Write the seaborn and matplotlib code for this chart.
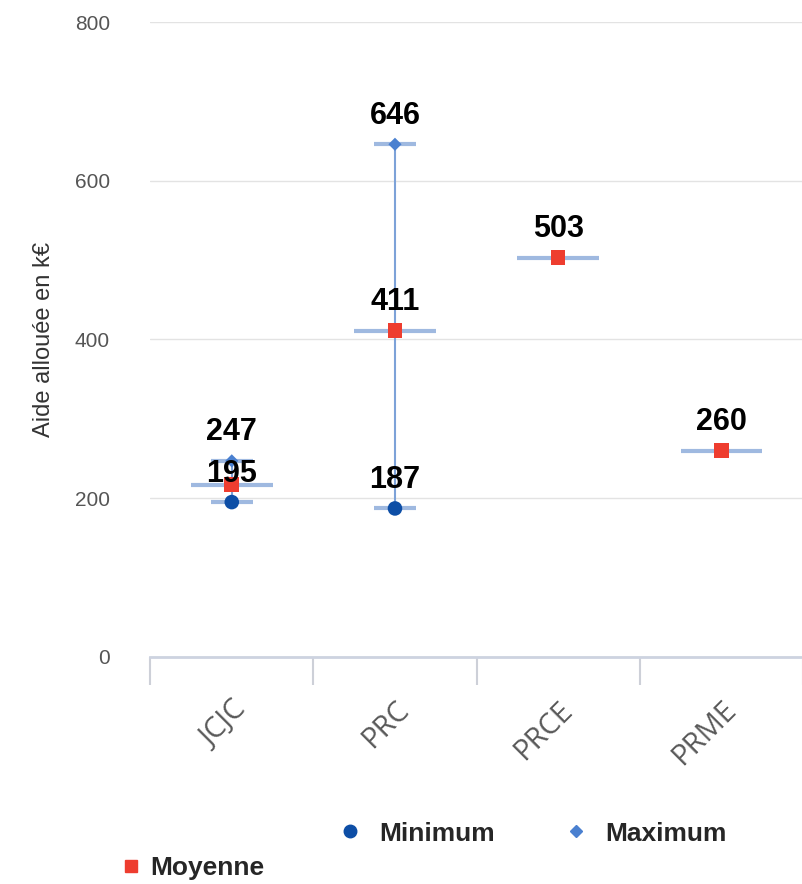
import matplotlib
matplotlib.use("Agg")
import matplotlib.pyplot as plt
from matplotlib.lines import Line2D
import numpy as np
import pandas as pd
import seaborn as sns

categories = ["JCJC", "PRC", "PRCE", "PRME"]
minimum = [195, 187, np.nan, np.nan]
maximum = [247, 646, np.nan, np.nan]
moyenne = [217, 411, 503, 260]
label_mean = [False, True, True, True]

sns.set_theme(style="white")
plt.rcParams["font.family"] = ["Liberation Sans", "DejaVu Sans"]

fig = plt.figure(figsize=(8.03, 8.84), dpi=100)
ax = fig.add_axes([0.187, 0.257, 0.813, 0.718])

df = pd.DataFrame({"cat": categories, "min": minimum, "max": maximum, "mean": moyenne})
x = np.arange(len(categories))

bar_c = "#9fb9e0"
for i, (lo, hi) in enumerate(zip(minimum, maximum)):
    if not np.isnan(lo):
        ax.plot([i, i], [lo, hi], color="#7da2d8", lw=1.5, zorder=2)
        ax.hlines([lo, hi], i - 0.13, i + 0.13, color=bar_c, lw=3, zorder=2)
ax.hlines(moyenne, x - 0.25, x + 0.25, color=bar_c, lw=3, zorder=2)

sns.scatterplot(data=df, x="cat", y="min", marker="o", s=110, color="#0d4ea6",
                edgecolor="none", ax=ax, zorder=4, legend=False)
sns.scatterplot(data=df, x="cat", y="max", marker="D", s=45, color="#4a80d0",
                edgecolor="none", ax=ax, zorder=4, legend=False)
sns.scatterplot(data=df, x="cat", y="mean", marker="s", s=110, color="#ee3d2f",
                edgecolor="none", ax=ax, zorder=5, legend=False)

lab_kw = dict(ha="center", va="bottom", fontsize=22, fontweight="bold",
              color="black", zorder=6)
off = 17
for i in range(len(categories)):
    if not np.isnan(minimum[i]):
        ax.text(i, minimum[i] + off, f"{minimum[i]:.0f}", **lab_kw)
    if not np.isnan(maximum[i]):
        ax.text(i, maximum[i] + off, f"{maximum[i]:.0f}", **lab_kw)
    if label_mean[i]:
        ax.text(i, moyenne[i] + off, f"{moyenne[i]:.0f}", **lab_kw)

ax.set_xlim(-0.5, len(categories) - 0.5)
ax.set_ylim(0, 800)
ax.set_yticks([0, 200, 400, 600, 800])
ax.yaxis.grid(True, color="#e3e3e3", lw=1)
ax.set_axisbelow(True)
for s in ["top", "right", "left"]:
    ax.spines[s].set_visible(False)
ax.spines["bottom"].set_color("#cdd3e0")
ax.spines["bottom"].set_linewidth(2)

ax.set_xticks(x)
ax.set_xticklabels(categories, rotation=45, ha="right", rotation_mode="anchor",
                   fontsize=21, color="#595959", family=["Open Sans", "DejaVu Sans"])
ax.tick_params(axis="x", length=0, pad=28)
ax.set_xticks(np.arange(-0.5, len(categories) + 0.5, 1), minor=True)
ax.tick_params(axis="x", which="minor", length=20, width=1.5, color="#cdd0d8", bottom=True)
ax.tick_params(axis="y", length=0, labelsize=15, labelcolor="#555555", pad=29)
ax.set_xlabel("")
ax.set_ylabel("Aide allouée en k€", fontsize=17, color="#333333", labelpad=14)

h_min = Line2D([], [], marker="o", color="#0d4ea6", ls="none", markersize=9)
h_max = Line2D([], [], marker="D", color="#4a80d0", ls="none", markersize=6)
h_moy = Line2D([], [], marker="s", color="#ee3d2f", ls="none", markersize=9)
leg_kw = dict(frameon=False, prop={"weight": "bold", "size": 19}, handletextpad=0.6,
              handlelength=1.0)
fig.legend([h_min, h_max], ["Minimum", "Maximum"], ncol=2,
           loc="center", bbox_to_anchor=(0.662, 0.057), columnspacing=2.6, **leg_kw)
fig.legend([h_moy], ["Moyenne"], loc="center", bbox_to_anchor=(0.238, 0.018),
           frameon=False, prop={"weight": "bold", "size": 19}, handletextpad=0.2,
           handlelength=1.0)

fig.savefig("out.png", dpi=100)
